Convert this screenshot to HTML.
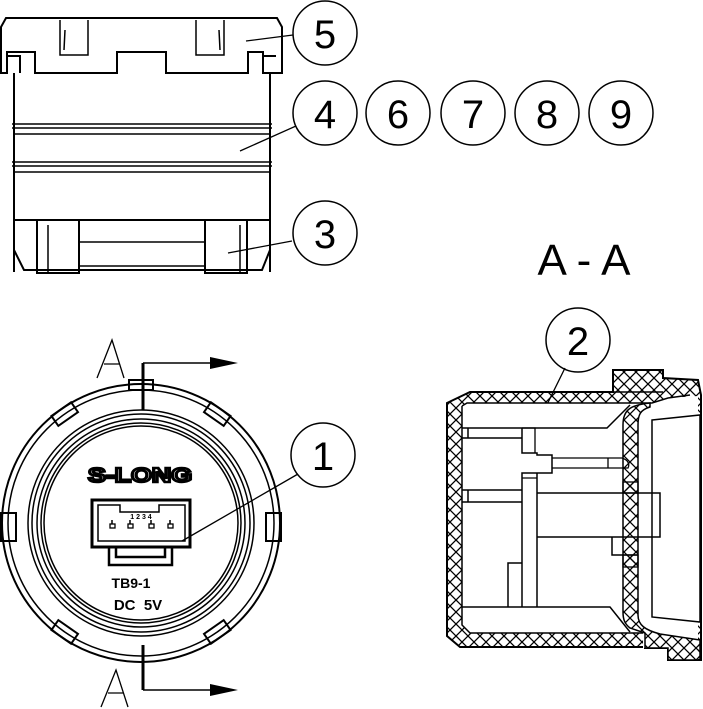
<!DOCTYPE html>
<html><head><meta charset="utf-8"><style>html,body{margin:0;padding:0;background:#fff}svg{display:block}</style></head>
<body>
<svg width="703" height="709" viewBox="0 0 703 709" xmlns="http://www.w3.org/2000/svg" font-family="Liberation Sans, sans-serif">
<defs>
<pattern id="h" width="12" height="12" patternUnits="userSpaceOnUse">
<path d="M0 0L12 12M12 0L0 12" stroke="#000" stroke-width="1.3"/>
</pattern>
</defs>
<g fill="none" stroke="#000" stroke-width="2">
<!-- top view cap -->
<path d="M1 73V27L6 18H277L282 27V73H263V52H248V73H166V52H117V73H35V52H7V73Z"/>
<path d="M7 56H20V73M263 56H276"/>
<path d="M60 20V55H88V20M65 30L64 50M196 20V55H224V20M219 30L220 50" stroke-width="1.5"/>
<path d="M14 73V272M270 73V272"/>
<path d="M12 124H272M12 128H272M14 134H270M12 162H272M12 166H272M14 172H270" stroke-width="1.5"/>
<path d="M14 220H270M14 250L24 270H262L270 250"/>
<rect x="37" y="220" width="42" height="53"/>
<rect x="205" y="220" width="42" height="53"/>
<path d="M79 242H205M79 266H205M48 225V273M240 225V273" stroke-width="1.5"/>
<!-- balloons -->
<circle cx="325" cy="33" r="32" stroke-width="1.5"/>
<circle cx="325" cy="113" r="32" stroke-width="1.5"/>
<circle cx="398" cy="113" r="32" stroke-width="1.5"/>
<circle cx="473" cy="113" r="32" stroke-width="1.5"/>
<circle cx="547" cy="113" r="32" stroke-width="1.5"/>
<circle cx="621" cy="113" r="32" stroke-width="1.5"/>
<circle cx="325" cy="233" r="32" stroke-width="1.5"/>
<circle cx="323" cy="455" r="32" stroke-width="1.5"/>
<circle cx="578" cy="340" r="32" stroke-width="1.5"/>
<path d="M246 41L293 35M240 151L296 126M228 253L292 241M182 541L298 474M531 437L565 368" stroke-width="1.3"/>
<!-- circle view -->
<circle cx="141" cy="523" r="139"/>
<circle cx="141" cy="523" r="133" stroke-width="1.5"/>
<circle cx="141" cy="523" r="113" stroke-width="1.5"/>
<circle cx="141" cy="523" r="109" stroke-width="1.5"/>
<circle cx="141" cy="523" r="104" stroke-width="1.5"/>
<circle cx="141" cy="523" r="100" stroke-width="1.5"/>
<circle cx="141" cy="523" r="97" stroke-width="1.5"/>
<rect x="1" y="513" width="15" height="28"/>
<rect x="266" y="513" width="15" height="28"/>
<rect x="129" y="380" width="24" height="10"/>
<g transform="rotate(-35 141 523)"><rect x="129" y="384" width="24" height="12"/></g>
<g transform="rotate(35 141 523)"><rect x="129" y="384" width="24" height="12"/></g>
<g transform="rotate(145 141 523)"><rect x="129" y="384" width="24" height="12"/></g>
<g transform="rotate(-145 141 523)"><rect x="129" y="384" width="24" height="12"/></g>
<rect x="92" y="500" width="98" height="47" stroke-width="3"/>
<path d="M98 541V505H120V512H159V505H185V541Z" stroke-width="1.5"/>
<path d="M109 547V565H172V547M116 547V557H165V547" stroke-width="2.5"/>
<path d="M112 520V524M130 520V524M151 520V524M170 520V524" stroke-width="1.5"/>
<rect x="110" y="524" width="5" height="4" stroke-width="1.3"/><rect x="128" y="524" width="5" height="4" stroke-width="1.3"/>
<rect x="149" y="524" width="5" height="4" stroke-width="1.3"/><rect x="168" y="524" width="5" height="4" stroke-width="1.3"/>
<path d="M143 363V410M143 645V690" stroke-width="3"/>
<path d="M143 363H210M143 690H210" stroke-width="1.5"/>
<path d="M97 378L112 340L124 378M104 364H120M101 707L116 670L128 707M108 693H124" stroke-width="1.3"/>
<!-- section view shell -->
<path d="M447 403L470 392H613V370H663V378L698 380L701 395V660H668V648H645V647H460L447 636Z" fill="url(#h)"/>
<path d="M462 406L467 403H652L668 398L698 396V660H668V648H643V633H470L462 625Z" fill="#fff" stroke="none"/>
<path d="M462 406L467 403H652L668 398L690 395M462 406V625L470 633H643" stroke-width="1.5"/>
<!-- right hatched curve -->
<path d="M650 407C640 410 638 415 638 425V615C638 625 645 630 660 634L700 640V660H668V648H645V633L630 628C625 624 623 620 623 612V425C623 410 630 405 650 403Z" fill="url(#h)" stroke-width="1.5"/>
<path d="M652 420L700 415V622L652 617Z" fill="#fff" stroke-width="1.5"/>
<path d="M613 392H663" stroke-width="1.5"/>
<!-- interior -->
<path d="M462 428H607L630 405" stroke-width="1.5"/>
<path d="M462 438H522M462 490H522M462 502H522M468 428V438M468 490V502" stroke-width="1.5"/>
<path d="M522 428V453H537V455H552V473H522V607M537 473V607" stroke-width="1.5"/>
<path d="M522 428H535V453M522 478H537" stroke-width="1.3"/>
<path d="M552 458H622C628 460 630 464 628 468H552M608 458V468" stroke-width="1.3"/>
<path d="M537 493H660V537H612V555H638M537 537H612" stroke-width="1.5"/>
<rect x="623" y="482" width="15" height="11" fill="url(#h)" stroke-width="1.3"/>
<rect x="623" y="555" width="15" height="12" fill="url(#h)" stroke-width="1.3"/>
<path d="M508 607V563H522" stroke-width="1.5"/>
<path d="M462 607H610L630 632" stroke-width="1.5"/>
</g>
<g font-size="40" text-anchor="middle" fill="#000" font-family="Liberation Sans, sans-serif">
<text x="325" y="48">5</text><text x="325" y="128">4</text><text x="398" y="128">6</text>
<text x="473" y="128">7</text><text x="547" y="128">8</text><text x="621" y="128">9</text>
<text x="325" y="248">3</text><text x="323" y="470">1</text><text x="578" y="355">2</text>
<text x="584" y="275" font-size="44">A - A</text>
</g>
<g fill="#000">
<polygon points="210,357 238,363 210,369"/>
<polygon points="210,684 238,690 210,696"/>
</g>
<g font-weight="bold" text-anchor="middle" fill="#000">
<text x="140" y="482" font-size="20" fill="#fff" stroke="#000" stroke-width="2.5" textLength="104" lengthAdjust="spacingAndGlyphs">S-LONG</text>
<text x="131" y="588" font-size="14">TB9-1</text>
<text x="138" y="610" font-size="15">DC&#160;&#160;5V</text>
<text x="141" y="519" font-size="7">1 2 3 4</text>
</g>
</svg>
</body></html>
